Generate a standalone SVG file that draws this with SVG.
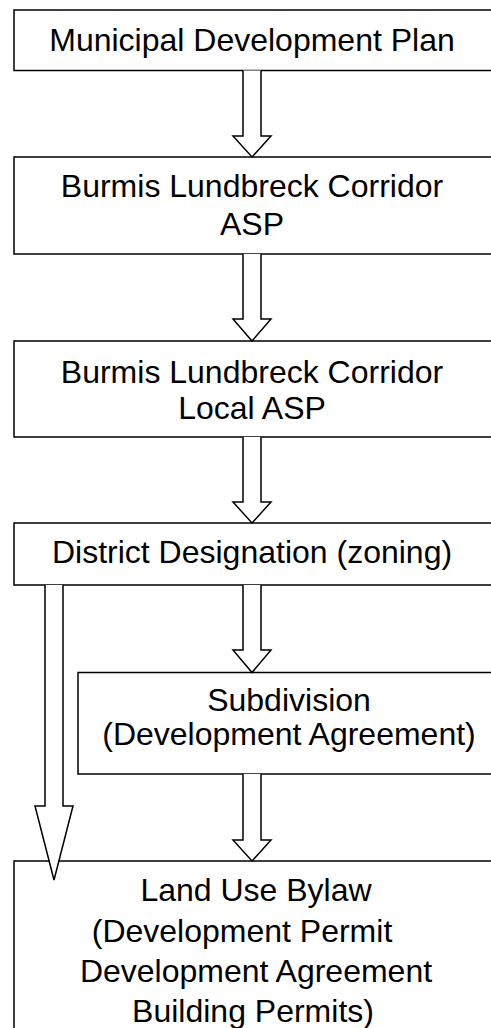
<svg xmlns="http://www.w3.org/2000/svg" width="491" height="1028" viewBox="0 0 491 1028">
<style>
.box{fill:#fff;stroke:#000;stroke-width:1.5}
.arr{fill:#fff;stroke:#000;stroke-width:1.5;stroke-linejoin:miter}
text{font-family:"Liberation Sans",Arial,sans-serif;font-size:32px;fill:#000;text-anchor:middle}
</style>
<rect width="491" height="1028" fill="#fff"/>
<g id="n1"><rect class="box" x="14" y="10" width="490" height="60.5"/><text x="252" y="51">Municipal Development Plan</text></g>
<g id="n2"><rect class="box" x="14" y="157" width="490" height="97"/><text x="252" y="197">Burmis Lundbreck Corridor</text><text x="252" y="235">ASP</text></g>
<g id="n3"><rect class="box" x="14" y="341" width="490" height="96"/><text x="252" y="383">Burmis Lundbreck Corridor</text><text x="252" y="419">Local ASP</text></g>
<g id="n4"><rect class="box" x="14" y="523" width="490" height="62"/><text x="252" y="563">District Designation (zoning)</text></g>
<g id="n5"><rect class="box" x="78" y="672.5" width="440" height="101.5"/><text x="289" y="711">Subdivision</text><text x="289" y="745">(Development Agreement)</text></g>
<g id="n6"><rect class="box" x="14" y="861" width="490" height="200"/><text x="256" y="901">Land Use Bylaw</text><text x="242" y="942">(Development Permit</text><text x="256" y="982">Development Agreement</text><text x="253" y="1022">Building Permits)</text></g>
<g id="connectors">
<path class="arr" d="M243,70.5 V136 H233 L252,157 L271,136 H261 V70.5"/>
<path class="arr" d="M243,254 V319 H233 L252,341 L271,319 H261 V254"/>
<path class="arr" d="M243,437 V502 H233 L252,523 L271,502 H261 V437"/>
<path class="arr" d="M243,585 V650 H233 L252,672.5 L271,650 H261 V585"/>
<path class="arr" d="M243,774 V840 H233 L252,861 L271,840 H261 V774"/>
<path class="arr" d="M45,585 V806 H35 L54,880 L73,806 H63 V585"/>
</g>
</svg>
